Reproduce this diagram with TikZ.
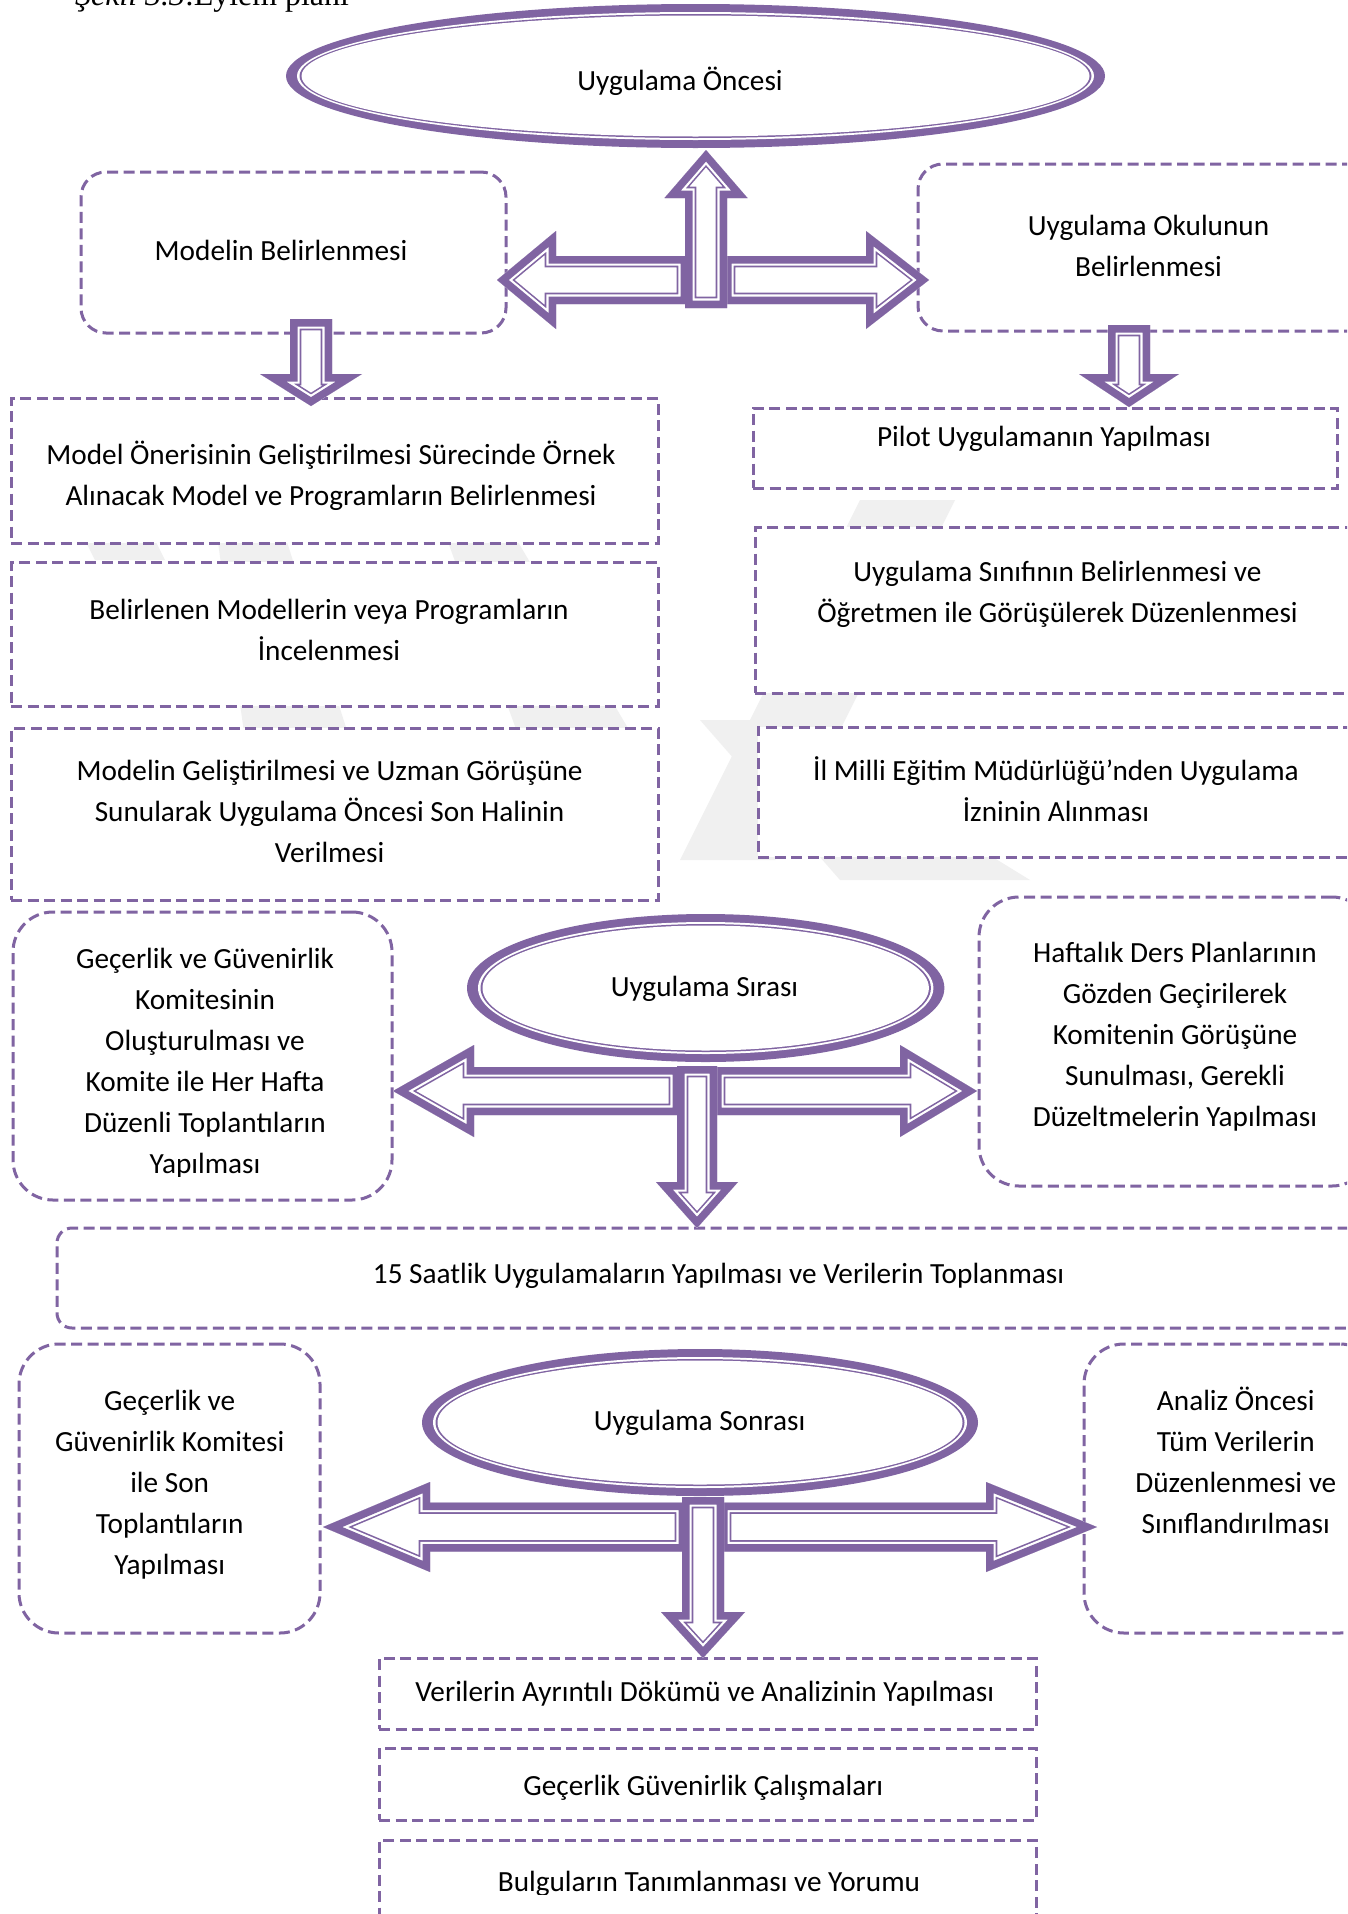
\documentclass[tikz,border=0pt]{standalone}
\usepackage{fontspec}
\setmainfont{Carlito}
\newfontfamily\tnr{Liberation Serif}
\definecolor{vio}{HTML}{8064A2}
\definecolor{wmk}{HTML}{F0F0F0}
\newcommand\lnst{\rule[-12pt]{0pt}{41pt}}
\newcommand\fancyarr[1]{%
  \begin{scope}
    \clip #1 -- cycle;
    \fill[white] #1 -- cycle;
    \draw[vio, line width=22.6pt, line join=miter] #1 -- cycle;
    \draw[white, line width=19.4pt, line join=miter] #1 -- cycle;
    \draw[vio, line width=15pt, line join=miter] #1 -- cycle;
  \end{scope}}
\newcommand\dblell[4]{%
  \fill[vio] (#1,#2) ellipse [x radius=#3, y radius=#4];
  \fill[white] (#1,#2) ellipse [x radius=#3-11, y radius=#4-8];
  \fill[vio] (#1,#2) ellipse [x radius=#3-13.5, y radius=#4-10];
  \fill[white] (#1,#2) ellipse [x radius=#3-15.5, y radius=#4-11.5];}
\begin{document}
\begin{tikzpicture}[x=1pt, y=-1pt,
  txt/.style={font=\fontsize{29.25}{41}\selectfont, align=center, inner sep=0pt, text=black},
  rectbox/.style={draw=vio, line width=3pt, dash pattern=on 11pt off 5.5pt, fill=white, inner sep=0pt, rectangle},
  rbox/.style={rectbox, rounded corners=25pt},
  rboxL/.style={rectbox, rounded corners=40pt},
  rboxS/.style={rectbox, rounded corners=15pt}]
\useasboundingbox (0,0) rectangle (1347,1914);
\clip (0,0) rectangle (1347,1914);
\fill[white] (0,0) rectangle (1347,1914);

% watermark
\fill[wmk] (860,500) -- (955,500) -- (775,860) -- (680,860) -- cycle;
\fill[wmk] (700,720) -- (770,720) -- (1030,880) -- (840,880) -- cycle;
\fill[wmk] (440,520) -- (505,520) -- (635,740) -- (520,740) -- cycle;
\fill[wmk] (215,520) -- (280,520) -- (350,740) -- (245,740) -- cycle;
\fill[wmk] (75,520) -- (145,520) -- (165,560) -- (95,560) -- cycle;

% caption (cut at top)
\node[anchor=base west, inner sep=0pt, font=\fontsize{31.9}{38}\selectfont\tnr] (cap) at (75,5) {\textit{Şekil 3.3}:Eylem planı};

% boxes
\node[rbox, minimum width=425pt, minimum height=161pt] (modb) at (293.5,252.5) {};
\node[rbox, minimum width=460pt, minimum height=167pt] (okb) at (1148,247.5) {};
\node[rectbox, minimum width=647pt, minimum height=145pt] (b1) at (334.5,470.5) {};
\node[rectbox, minimum width=647pt, minimum height=144pt] (b2) at (334.5,634) {};
\node[rectbox, minimum width=647pt, minimum height=172pt] (b3) at (334.5,814) {};
\node[rectbox, minimum width=584pt, minimum height=80pt] (pil) at (1045,448) {};
\node[rectbox, minimum width=605pt, minimum height=166pt] (sin) at (1057.5,610) {};
\node[rectbox, minimum width=596pt, minimum height=130pt] (ilm) at (1056,792) {};
\node[rboxL, minimum width=379pt, minimum height=288pt] (gm) at (202.5,1056) {};
\node[rboxL, minimum width=393pt, minimum height=289pt] (haf) at (1175.5,1041.5) {};
\node[rboxS, minimum width=1323pt, minimum height=100pt] (saat) at (718.5,1278) {};
\node[rboxL, minimum width=301pt, minimum height=289pt] (gb) at (169.5,1488.5) {};
\node[rboxL, minimum width=296pt, minimum height=289pt] (ana) at (1232,1488.5) {};
\node[rectbox, minimum width=657pt, minimum height=71pt] (ver) at (707.5,1693.5) {};
\node[rectbox, minimum width=657pt, minimum height=72pt] (cal) at (707.5,1784) {};
\node[rectbox, minimum width=657pt, minimum height=120pt] (bul) at (707.5,1900) {};

% texts
\node[txt] (modt) at (281,252) {\lnst Modelin Belirlenmesi};
\node[txt] (okt) at (1148.5,247) {\lnst Uygulama Okulunun\\\lnst Belirlenmesi};
\node[txt] (b1t) at (331,476) {\lnst Model Önerisinin Geliştirilmesi Sürecinde Örnek\\\lnst Alınacak Model ve Programların Belirlenmesi};
\node[txt] (b2t) at (329,631) {\lnst Belirlenen Modellerin veya Programların\\\lnst İncelenmesi};
\node[txt] (b3t) at (329.6,812.5) {\lnst Modelin Geliştirilmesi ve Uzman Görüşüne\\\lnst Sunularak Uygulama Öncesi Son Halinin\\\lnst Verilmesi};
\node[txt] (pilt) at (1044,437.5) {\lnst Pilot Uygulamanın Yapılması};
\node[txt] (sint) at (1057.5,593.6) {\lnst Uygulama Sınıfının Belirlenmesi ve\\\lnst Öğretmen ile Görüşülerek Düzenlenmesi};
\node[txt] (ilmt) at (1056,792) {\lnst İl Milli Eğitim Müdürlüğü’nden Uygulama\\\lnst İzninin Alınması};
\begin{scope}
\clip (0,900) rectangle (400,1176.5);
\node[txt] (gmt) at (205,1062) {\lnst Geçerlik ve Güvenirlik\\\lnst Komitesinin\\\lnst Oluşturulması ve\\\lnst Komite ile Her Hafta\\\lnst Düzenli Toplantıların\\\lnst Yapılması};
\end{scope}
\node[txt] (haft) at (1175,1035.5) {\lnst Haftalık Ders Planlarının\\\lnst Gözden Geçirilerek\\\lnst Komitenin Görüşüne\\\lnst Sunulması, Gerekli\\\lnst Düzeltmelerin Yapılması};
\node[txt] (saatt) at (718.6,1274.5) {\lnst 15 Saatlik Uygulamaların Yapılması ve Verilerin Toplanması};
\node[txt] (gbt) at (169.7,1484) {\lnst Geçerlik ve\\\lnst Güvenirlik Komitesi\\\lnst ile Son\\\lnst Toplantıların\\\lnst Yapılması};
\node[txt] (anat) at (1235.8,1463.7) {\lnst Analiz Öncesi\\\lnst Tüm Verilerin\\\lnst Düzenlenmesi ve\\\lnst Sınıflandırılması};
\node[txt] (vert) at (704.8,1693) {\lnst Verilerin Ayrıntılı Dökümü ve Analizinin Yapılması};
\node[txt] (calt) at (703.3,1786.5) {\lnst Geçerlik Güvenirlik Çalışmaları};
\begin{scope}
\clip (300,1800) rectangle (1100,1894);
\node[txt] (bult) at (709,1883) {\lnst Bulguların Tanımlanması ve Yorumu};
\end{scope}

% small down arrows
\fancyarr{(290,319) -- (332,319) -- (332,374) -- (362,374) -- (311,406) -- (260,374) -- (290,374)}
\fancyarr{(1108,325) -- (1150,325) -- (1150,374) -- (1179,374) -- (1129,407) -- (1079,374) -- (1108,374)}

% top cross
\fancyarr{(688,256) -- (556,256) -- (556,231) -- (497,280) -- (556,329) -- (556,304) -- (688,304)}
\fancyarr{(724,256) -- (866,256) -- (866,231) -- (929,280) -- (866,329) -- (866,304) -- (724,304)}
\fancyarr{(685,308) -- (685,198) -- (664.5,198) -- (706,150) -- (747.5,198) -- (727,198) -- (727,308)}

% middle cross
\fancyarr{(680,1067) -- (474,1067) -- (474,1045) -- (393,1091) -- (474,1137) -- (474,1115) -- (680,1115)}
\fancyarr{(714,1067) -- (900,1067) -- (900,1045) -- (977,1091) -- (900,1137) -- (900,1115) -- (714,1115)}
\fancyarr{(677,1066) -- (717,1066) -- (717,1182) -- (738,1182) -- (697,1228) -- (656,1182) -- (677,1182)}

% bottom cross
\fancyarr{(686,1502.5) -- (430,1502.5) -- (430,1482) -- (323,1527) -- (430,1572) -- (430,1551.5) -- (686,1551.5)}
\fancyarr{(720,1502.5) -- (986,1502.5) -- (986,1482) -- (1097,1527) -- (986,1572) -- (986,1551.5) -- (720,1551.5)}
\fancyarr{(682,1497) -- (724,1497) -- (724,1612) -- (745,1612) -- (703,1658) -- (661,1612) -- (682,1612)}

% ellipses
\dblell{695.5}{76}{409.5}{72}
\node[txt] (e1) at (680,81.5) {\lnst Uygulama Öncesi};
\dblell{705.7}{988}{238.7}{74}
\node[txt] (e2) at (704.5,988.2) {\lnst Uygulama Sırası};
\dblell{700}{1422.5}{278}{73.5}
\node[txt] (e3) at (699.5,1421.5) {\lnst Uygulama Sonrası};
\end{tikzpicture}
\end{document}
